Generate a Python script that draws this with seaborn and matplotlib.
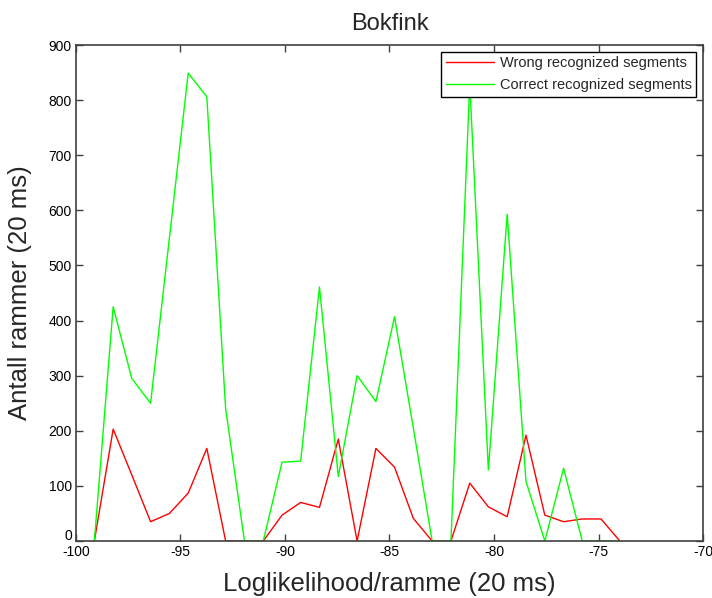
import matplotlib
matplotlib.use("Agg")
import matplotlib.pyplot as plt
import matplotlib.transforms as mtransforms
import seaborn as sns
import pandas as pd

# Bin centres of the log-likelihood histogram (per 20 ms frame)
loglik = [-99.12, -98.22, -97.33, -96.43, -95.53, -94.63, -93.74, -92.84,
          -91.94, -91.04, -90.14, -89.25, -88.35, -87.45, -86.55, -85.65,
          -84.76, -83.86, -82.96, -82.06, -81.16, -80.27, -79.37, -78.47,
          -77.57, -76.67, -75.78, -74.88, -73.98]

# Number of frames per bin
wrong = [0, 203, 120, 35, 50, 87, 168, 0,
         0, 0, 47, 70, 61, 185, 0, 168,
         134, 41, 0, 0, 105, 62, 44, 192,
         47, 35, 40, 40, 0]
correct = [0, 425, 295, 250, 550, 849, 806, 240,
           0, 0, 143, 145, 461, 117, 300, 253,
           407, 205, 0, 0, 830, 129, 593, 108,
           0, 132, 0, 0, 0]

labels = ["Wrong recognized segments", "Correct recognized segments"]
title = "Bokfink"
xlabel = "Loglikelihood/ramme (20 ms)"
ylabel = "Antall rammer (20 ms)"

df = pd.concat([
    pd.DataFrame({"x": loglik, "y": wrong, "serie": labels[0]}),
    pd.DataFrame({"x": loglik, "y": correct, "serie": labels[1]}),
])

sns.set_style("white")
plt.rcParams["font.family"] = ["Liberation Sans", "DejaVu Sans"]
plt.rcParams["axes.unicode_minus"] = False

fig = plt.figure(figsize=(7.12, 5.98), dpi=100)
ax = fig.add_axes([0.1067, 0.0953, 0.8807, 0.8294])

sns.lineplot(data=df, x="x", y="y", hue="serie", hue_order=labels,
             palette={labels[0]: "#ff0000", labels[1]: "#00ff00"},
             linewidth=1.0, ax=ax, estimator=None, sort=False)

ax.set_xlim(-100, -70)
ax.set_ylim(0, 900)
ax.set_xticks(range(-100, -69, 5))
ax.set_yticks(range(0, 901, 100))
ax.tick_params(direction="in", length=5, width=1, color="#404040",
               labelsize=10, top=True, right=True, bottom=True, left=True,
               labelcolor="black", pad=3)
for s in ax.spines.values():
    s.set_visible(True)
    s.set_color("#404040")
    s.set_linewidth(1.2)
    s.set_zorder(5)

# lift the "0" label a little so it clears the "-100" below it
fig.canvas.draw()
lift = mtransforms.ScaledTranslation(0, 5 / 72, fig.dpi_scale_trans)
first = ax.get_yticklabels()[0]
first.set_transform(first.get_transform() + lift)

ax.set_title(title, fontsize=17, pad=11)
ax.set_xlabel(xlabel, fontsize=18.5, labelpad=9)
ax.set_ylabel(ylabel, fontsize=18.5, labelpad=12)

leg = ax.legend(loc="upper right", fontsize=10.5, frameon=True, fancybox=False,
                borderaxespad=0.45, handlelength=3.3, handletextpad=0.4,
                borderpad=0.33, labelspacing=0.5, title=None)
leg.get_frame().set_edgecolor("black")
leg.get_frame().set_linewidth(1.0)
leg.get_frame().set_facecolor("white")
leg.get_frame().set_alpha(1.0)
leg.set_zorder(10)

fig.savefig("out.png", dpi=100)
